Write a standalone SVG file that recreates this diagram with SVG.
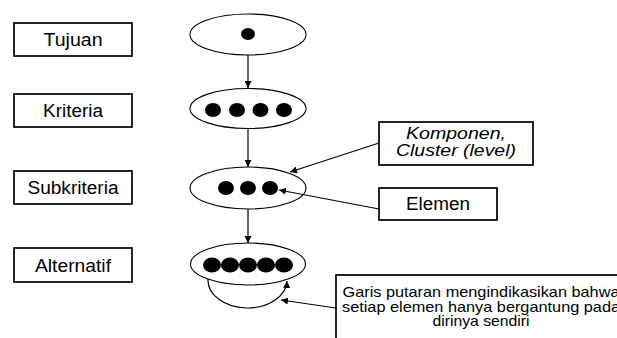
<svg xmlns="http://www.w3.org/2000/svg" width="617" height="338" viewBox="0 0 617 338">
<style>
  .box { fill: #fff; stroke: #000; stroke-width: 1.7; }
  .ell { fill: #fff; stroke: #000; stroke-width: 1.1; }
  .dot { fill: #000; }
  .lbl { font-family: "Liberation Sans", Arial, sans-serif; font-size: 17.5px; fill: #000; text-anchor: middle; }
  .it { font-style: italic; font-size: 16.5px; }
  .note { font-size: 14.5px; }
  .con { fill: none; stroke: #000; stroke-width: 1.2; }
</style>
<defs>
  <marker id="ah" viewBox="0 0 10 10" refX="10" refY="5" markerWidth="7" markerHeight="7" markerUnits="userSpaceOnUse" orient="auto">
    <path d="M0,0 L10,5 L0,10 z" fill="#000"/>
  </marker>
</defs>
<rect width="617" height="338" fill="#fff"/>

<g id="label-tujuan">
  <rect class="box" x="14" y="23" width="118" height="33"/>
  <text class="lbl" x="73" y="45.5" textLength="59" lengthAdjust="spacingAndGlyphs">Tujuan</text>
</g>
<g id="label-kriteria">
  <rect class="box" x="14" y="94" width="118" height="33"/>
  <text class="lbl" x="73" y="116.5" textLength="60" lengthAdjust="spacingAndGlyphs">Kriteria</text>
</g>
<g id="label-subkriteria">
  <rect class="box" x="14" y="171" width="118" height="33"/>
  <text class="lbl" x="73" y="193.5" textLength="91" lengthAdjust="spacingAndGlyphs">Subkriteria</text>
</g>
<g id="label-alternatif">
  <rect class="box" x="14" y="248" width="118" height="34"/>
  <text class="lbl" x="73" y="271.5" textLength="76" lengthAdjust="spacingAndGlyphs">Alternatif</text>
</g>

<g id="node-tujuan">
  <ellipse class="ell" cx="248" cy="34.5" rx="58" ry="20.5"/>
  <ellipse class="dot" cx="248" cy="34" rx="7" ry="6"/>
</g>
<g id="node-kriteria">
  <ellipse class="ell" cx="248" cy="108.5" rx="58" ry="20"/>
  <ellipse class="dot" cx="213" cy="110" rx="8" ry="7"/>
  <ellipse class="dot" cx="237" cy="110" rx="8" ry="7"/>
  <ellipse class="dot" cx="260.5" cy="110" rx="8" ry="7"/>
  <ellipse class="dot" cx="284" cy="110" rx="8" ry="7"/>
</g>
<g id="node-subkriteria">
  <ellipse class="ell" cx="248" cy="188" rx="58" ry="21"/>
  <ellipse class="dot" cx="226" cy="188" rx="8" ry="7"/>
  <ellipse class="dot" cx="248" cy="188" rx="8" ry="7"/>
  <ellipse class="dot" cx="270" cy="188" rx="8" ry="7"/>
</g>
<g id="node-alternatif">
  <ellipse class="ell" cx="248" cy="264" rx="57.5" ry="21"/>
  <ellipse class="dot" cx="212" cy="265" rx="9" ry="7.5"/>
  <ellipse class="dot" cx="230" cy="265" rx="9" ry="7.5"/>
  <ellipse class="dot" cx="248" cy="265" rx="9" ry="7.5"/>
  <ellipse class="dot" cx="266" cy="265" rx="9" ry="7.5"/>
  <ellipse class="dot" cx="284" cy="265" rx="9" ry="7.5"/>
</g>

<g id="callout-komponen">
  <rect class="box" x="379" y="122" width="154" height="43"/>
  <text class="lbl it" x="456" y="139" textLength="100" lengthAdjust="spacingAndGlyphs">Komponen,</text>
  <text class="lbl it" x="456" y="156" textLength="120" lengthAdjust="spacingAndGlyphs">Cluster (level)</text>
</g>
<g id="callout-elemen">
  <rect class="box" x="379" y="188" width="118" height="32"/>
  <text class="lbl" x="438" y="210" textLength="64" lengthAdjust="spacingAndGlyphs">Elemen</text>
</g>
<g id="callout-loop">
  <rect class="box" x="336" y="275" width="300" height="80"/>
  <text class="lbl note" x="481" y="297" textLength="277" lengthAdjust="spacingAndGlyphs">Garis putaran mengindikasikan bahwa</text>
  <text class="lbl note" x="481" y="311.5" textLength="278" lengthAdjust="spacingAndGlyphs">setiap elemen hanya bergantung pada</text>
  <text class="lbl note" x="481" y="326" textLength="97" lengthAdjust="spacingAndGlyphs">dirinya sendiri</text>
</g>

<g id="connectors">
  <line class="con" x1="248" y1="55" x2="248" y2="88" marker-end="url(#ah)"/>
  <line class="con" x1="248" y1="128.5" x2="248" y2="167" marker-end="url(#ah)"/>
  <line class="con" x1="248" y1="209" x2="248" y2="243" marker-end="url(#ah)"/>
  <path class="con" d="M208,279 A39.5,28 0 0 0 287,281" marker-end="url(#ah)"/>
  <line class="con" x1="379" y1="143" x2="290" y2="172" marker-end="url(#ah)"/>
  <line class="con" x1="379" y1="209" x2="279" y2="190" marker-end="url(#ah)"/>
  <line class="con" x1="336" y1="308" x2="281" y2="300" marker-end="url(#ah)"/>
</g>
</svg>
